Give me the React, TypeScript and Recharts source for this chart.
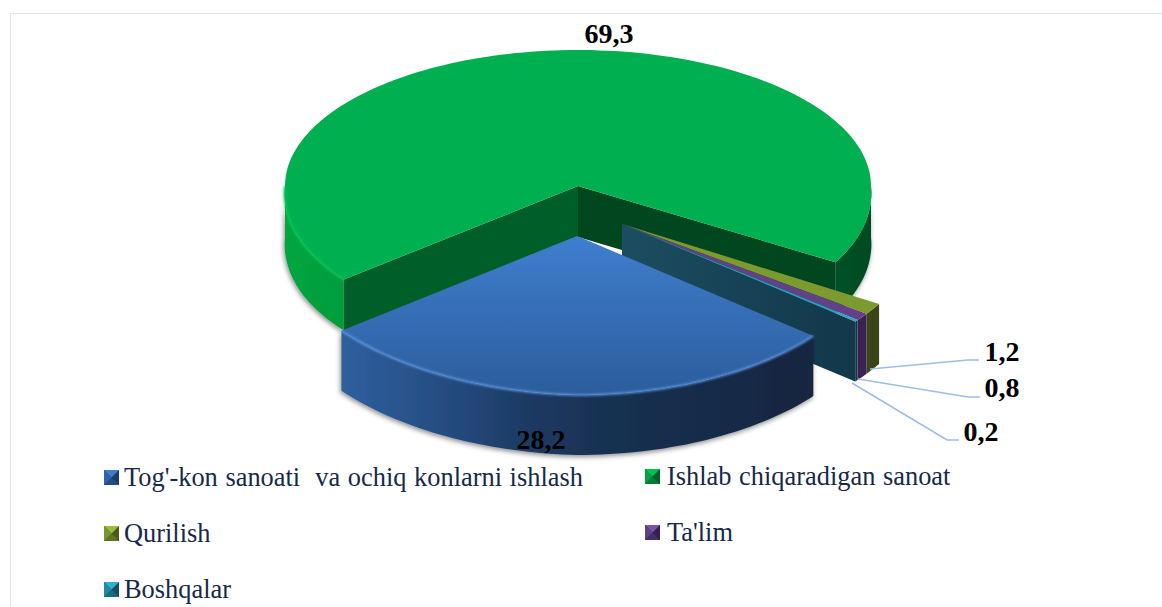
import React from 'react';
import { PieChart, Pie, Legend } from 'recharts';

const CATEGORIES = ["Tog'-kon sanoati  va ochiq konlarni ishlash", 'Ishlab chiqaradigan sanoat', 'Qurilish', "Ta'lim", 'Boshqalar'];
const VALUES = [28.2, 69.3, 1.2, 0.8, 0.2];

// back slices are painted first, so the blue one goes last
const DRAW_ORDER = [1, 2, 3, 4, 0];
const pieData = DRAW_ORDER.map((i) => ({ name: CATEGORIES[i], value: VALUES[i], order: i }));

const MARKER_LIGHT = ['#3f7ccb', '#00c050', '#9bbb3a', '#7a52a8', '#2fb0d0'];
const MARKER_MID = ['#2f62a6', '#00a048', '#7a9630', '#5f4189', '#218ba6'];
const MARKER_DARK = ['#1c3d6c', '#00602a', '#4a5a1c', '#33204f', '#13505f'];

// fake 3d: every slice gets its own apex and ellipse (nearer slices are bigger)
const SLICES = [
  { x: 577, y: 236, rx: 304, grow: 0, tilt: 7.5, ryBack: 159, ryFront: 159, depth: 60, top: 'url(#blueTop)', wall: 'url(#blueWall)', rim: '#5a93dc', shadow: true },
  { x: 578, y: 186, rx: 293, grow: 0.05, tilt: 0, ryBack: 136, ryFront: 148, depth: 51, top: '#00b050', wall: 'url(#greenWall)', rim: '#00c65a', shadow: true },
  { x: 622, y: 224, rx: 300, grow: 0, tilt: 0, ryBack: 155, ryFront: 155, depth: 60, top: '#7c9a2d', wall: '#3a4518' },
  { x: 622, y: 224, rx: 300, grow: 0, tilt: 0, ryBack: 155, ryFront: 155, depth: 60, top: '#62418a', wall: '#3a2350' },
  { x: 622, y: 224, rx: 300, grow: 0, tilt: 0, ryBack: 155, ryFront: 155, depth: 60, top: '#2aa3bd', wall: '#12384a' },
];

const LABEL_SPOTS = [
  { x: 541, y: 449, line: null },
  { x: 609, y: 43, line: null },
  { x: 1002, y: 361, line: '870,369 968,360 979,360' },
  { x: 1002, y: 397, line: '858,379 968,397 980,397' },
  { x: 981, y: 441, line: '852,383 947,440 959,440' },
];

const LEGEND_SPOTS = [
  { x: 104, y: 470, text: 20 },
  { x: 645, y: 469, text: 22 },
  { x: 104, y: 526, text: 20 },
  { x: 645, y: 525, text: 22 },
  { x: 104, y: 582, text: 20 },
];

const RAD = Math.PI / 180;

const arcPoints = (s: any, from: number, to: number, dy = 0) => {
  const steps = Math.max(2, Math.ceil(Math.abs(to - from) / 1.5));
  const pts: string[] = [];
  for (let i = 0; i <= steps; i++) {
    const a = (from + ((to - from) * i) / steps) * RAD;
    const sin = Math.sin(a);
    const cos = Math.cos(a);
    const ry = sin > 0 ? s.ryBack : s.ryFront;
    const rx = s.rx * (1 + s.grow * Math.max(0, -sin));
    const lean = s.tilt * Math.min(0, cos);
    pts.push(`${(s.x + rx * cos).toFixed(1)} ${(s.y - ry * sin + lean + dy).toFixed(1)}`);
  }
  return pts;
};

const wallPath = (s: any, from: number, to: number) => {
  const upper = arcPoints(s, from, to);
  const lower = arcPoints(s, to, from, s.depth);
  return `M${upper.join('L')}L${lower.join('L')}Z`;
};

const facePath = (s: any, angle: number) => {
  const [p] = arcPoints(s, angle, angle + 1);
  const [q] = arcPoints(s, angle, angle + 1, s.depth);
  return `M${s.x} ${s.y}L${p}L${q}L${s.x} ${s.y + s.depth}Z`;
};

const SliceShape = (props: any) => {
  const { startAngle, endAngle, payload } = props;
  const order = payload?.order ?? props.order;
  const s = SLICES[order];
  const topPath = `M${s.x} ${s.y}L${arcPoints(s, startAngle, endAngle).join('L')}Z`;
  const rimPath = `M${arcPoints(s, startAngle, endAngle).join('L')}`;

  if (order === 1) {
    // the big one: both cut faces stay visible
    return (
      <g>
        <path d={wallPath(s, startAngle, 180)} fill={s.wall} filter="url(#pieShadow)" />
        <path d={wallPath(s, 0, endAngle)} fill={s.wall} filter="url(#pieShadow)" />
        <path d={facePath(s, endAngle)} fill="#00471f" />
        <path d={facePath(s, startAngle)} fill="#005f29" />
        <path d={topPath} fill={s.top} />
        <path d={`M${arcPoints(s, startAngle, 180).join('L')}`} fill="none" stroke={s.rim} strokeWidth={2} filter="url(#soft)" />
      </g>
    );
  }
  return (
    <g>
      {order === 4 && <path d={facePath(s, endAngle)} fill="url(#tealFace)" />}
      <path d={wallPath(s, startAngle, endAngle)} fill={s.wall} filter={s.shadow ? 'url(#pieShadow)' : undefined} />
      <path d={topPath} fill={s.top} />
      {s.rim && <path d={rimPath} fill="none" stroke={s.rim} strokeWidth={2} filter="url(#soft)" />}
    </g>
  );
};

const renderLabel = (props: any) => {
  const order = props.payload?.order ?? props.order;
  const spot = LABEL_SPOTS[order];
  return (
    <g key={order}>
      {spot.line && <polyline points={spot.line} fill="none" stroke="#9dbde8" strokeWidth={1.5} />}
      <text x={spot.x} y={spot.y} textAnchor="middle" fontFamily="'Liberation Serif'" fontWeight="bold" fontSize={28} fill="#000">
        {VALUES[order].toFixed(1).replace('.', ',')}
      </text>
    </g>
  );
};

const Marker = ({ i }: { i: number }) => (
  <svg width={15} height={15} style={{ position: 'absolute', left: 0, top: 0 }}>
    <rect width={15} height={15} fill={MARKER_DARK[i]} />
    <polygon points="0,0 15,0 7.5,7.5" fill={MARKER_LIGHT[i]} />
    <polygon points="0,0 0,15 7.5,7.5" fill={MARKER_MID[i]} />
    <polygon points="0,15 15,15 7.5,7.5" fill={MARKER_MID[i]} opacity={0.45} />
  </svg>
);

const renderLegend = () => (
  <div style={{ position: 'relative', width: 1162, height: 607 }}>
    {CATEGORIES.map((name, i) => (
      <div key={name} style={{ position: 'absolute', left: LEGEND_SPOTS[i].x, top: LEGEND_SPOTS[i].y, height: 15 }}>
        <Marker i={i} />
        <span
          style={{
            position: 'absolute',
            left: LEGEND_SPOTS[i].text,
            top: -7,
            whiteSpace: 'pre',
            fontFamily: "'Liberation Serif'",
            fontSize: 26.4,
            wordSpacing: 1,
            lineHeight: '28px',
            color: '#17294a',
          }}
        >
          {name}
        </span>
      </div>
    ))}
  </div>
);

export default function App() {
  return (
    <div style={{ position: 'absolute', left: 0, top: 0, width: 1162, height: 607, overflow: 'hidden', background: '#fff' }}>
      <div style={{ position: 'absolute', left: 10, top: 13, width: 1152, height: 594, borderLeft: '1px solid #dce6f2', borderTop: '1px solid #dce6f2' }} />
      <PieChart width={1162} height={607} margin={{ top: 0, right: 0, bottom: 0, left: 0 }}>
        <defs>
          <linearGradient id="blueTop" x1="0" y1="0" x2="0" y2="1">
            <stop offset="0%" stopColor="#3f7ecf" />
            <stop offset="100%" stopColor="#2c5d9c" />
          </linearGradient>
          <linearGradient id="blueWall" x1="0" y1="0" x2="1" y2="0">
            <stop offset="0%" stopColor="#2f5f9e" />
            <stop offset="19%" stopColor="#274f85" />
            <stop offset="40%" stopColor="#1c3a62" />
            <stop offset="55%" stopColor="#193152" />
            <stop offset="100%" stopColor="#14263f" />
          </linearGradient>
          <linearGradient id="greenWall" gradientUnits="userSpaceOnUse" x1="285" y1="0" x2="872" y2="0">
            <stop offset="0%" stopColor="#00a640" />
            <stop offset="10%" stopColor="#009c3c" />
            <stop offset="90%" stopColor="#00562a" />
            <stop offset="100%" stopColor="#004a22" />
          </linearGradient>
          <linearGradient id="tealFace" gradientUnits="userSpaceOnUse" x1="622" y1="0" x2="855" y2="0">
            <stop offset="0%" stopColor="#1c4d60" />
            <stop offset="100%" stopColor="#12384a" />
          </linearGradient>
          <filter id="pieShadow" x="-10%" y="-10%" width="120%" height="130%">
            <feDropShadow dx={-1} dy={2} stdDeviation={2.5} floodColor="#000" floodOpacity={0.45} />
          </filter>
          <filter id="soft" x="-5%" y="-5%" width="110%" height="110%">
            <feGaussianBlur stdDeviation={0.8} />
          </filter>
        </defs>
        <Pie
          data={pieData}
          dataKey="value"
          nameKey="name"
          cx={578}
          cy={186}
          outerRadius={293}
          startAngle={219.2}
          endAngle={-140.8}
          stroke="none"
          isAnimationActive={false}
          shape={SliceShape}
          label={renderLabel}
          labelLine={false}
        />
        <Legend content={renderLegend} wrapperStyle={{ left: 0, top: 0, width: 1162, height: 607, pointerEvents: 'none' }} />
      </PieChart>
    </div>
  );
}
